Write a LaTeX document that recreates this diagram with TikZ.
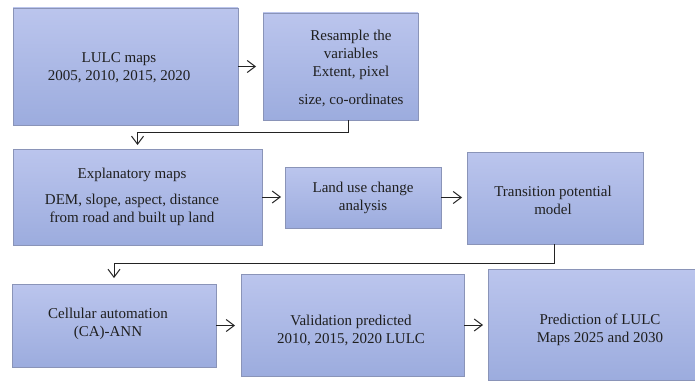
\documentclass[tikz,border=0pt]{standalone}
\usepackage{fontspec}
\setmainfont{Liberation Serif}
\usetikzlibrary{arrows.meta}
\definecolor{boxtop}{RGB}{187,197,237}
\definecolor{boxbot}{RGB}{156,172,222}
\definecolor{boxline}{RGB}{138,148,184}
\definecolor{conn}{RGB}{35,35,35}
\begin{document}
\begin{tikzpicture}[x=1pt,y=1pt,
  box/.style={draw=boxline, line width=0.9pt, top color=boxtop, bottom color=boxbot, inner sep=0pt, outer sep=0pt},
  txt/.style={font=\fontsize{15}{18}\selectfont, align=center, text=black!88, inner sep=0pt},
  arr/.style={draw=conn, line width=1pt, -{Straight Barb[length=8pt,width=12pt,line width=1pt]}}
]
\useasboundingbox (0,0) rectangle (695,381);
% boxes
\node[box, minimum width=225pt, minimum height=117pt] (b1) at (125.5,314.5) {};
\node[box, minimum width=155pt, minimum height=107pt] (b2) at (340.5,314.5) {};
\node[box, minimum width=249pt, minimum height=96pt]  (b3) at (137.5,184) {};
\node[box, minimum width=156pt, minimum height=61pt]  (b4) at (363,183.5) {};
\node[box, minimum width=176pt, minimum height=92pt]  (b5) at (555,183) {};
\node[box, minimum width=204pt, minimum height=83pt]  (b6) at (114,55.5) {};
\node[box, minimum width=223pt, minimum height=102pt] (b7) at (352.5,56) {};
\node[box, minimum width=207pt, minimum height=111pt] (b8) at (591.5,56.5) {};
% texts
\node[txt] (t1) at (119,313) {LULC maps\\2005, 2010, 2015, 2020};
\node[txt] (t2) at (351,313) {Resample the\\variables\\Extent, pixel\\[10pt]size, co-ordinates};
\node[txt] (t3) at (132,184) {Explanatory maps\\[8pt]DEM, slope, aspect, distance\\from road and built up land};
\node[txt] (t4) at (363,183.5) {Land use change\\analysis};
\node[txt] (t5) at (553,181) {Transition potential\\model};
\node[txt] (t6) at (108,57) {Cellular automation\\(CA)-ANN};
\node[txt] (t7) at (351,51) {Validation predicted\\2010, 2015, 2020 LULC};
\node[txt] (t8) at (600,51) {Prediction of LULC\\Maps 2025 and 2030};
% connectors
\coordinate (k1) at (0,249);
\coordinate (k2) at (0,118);
\draw[arr, shorten >=7pt] (b1.east) -- (b1.east -| b2.west);
\draw[arr, shorten >=4pt] ([xshift=7.5pt]b2.south) |- (b3.north |- k1) -- (b3.north);
\draw[arr, shorten >=4pt] (b3.east) -- (b3.east -| b4.west);
\draw[arr, shorten >=5pt] (b4.east) -- (b4.east -| b5.west);
\draw[arr, shorten >=6pt] ([xshift=-1pt]b5.south) |- (b6.north |- k2) -- (b6.north);
\draw[arr, shorten >=6pt] (b6.east) -- (b6.east -| b7.west);
\draw[arr, shorten >=5pt] (b7.east) -- (b7.east -| b8.west);
\end{tikzpicture}
\end{document}
